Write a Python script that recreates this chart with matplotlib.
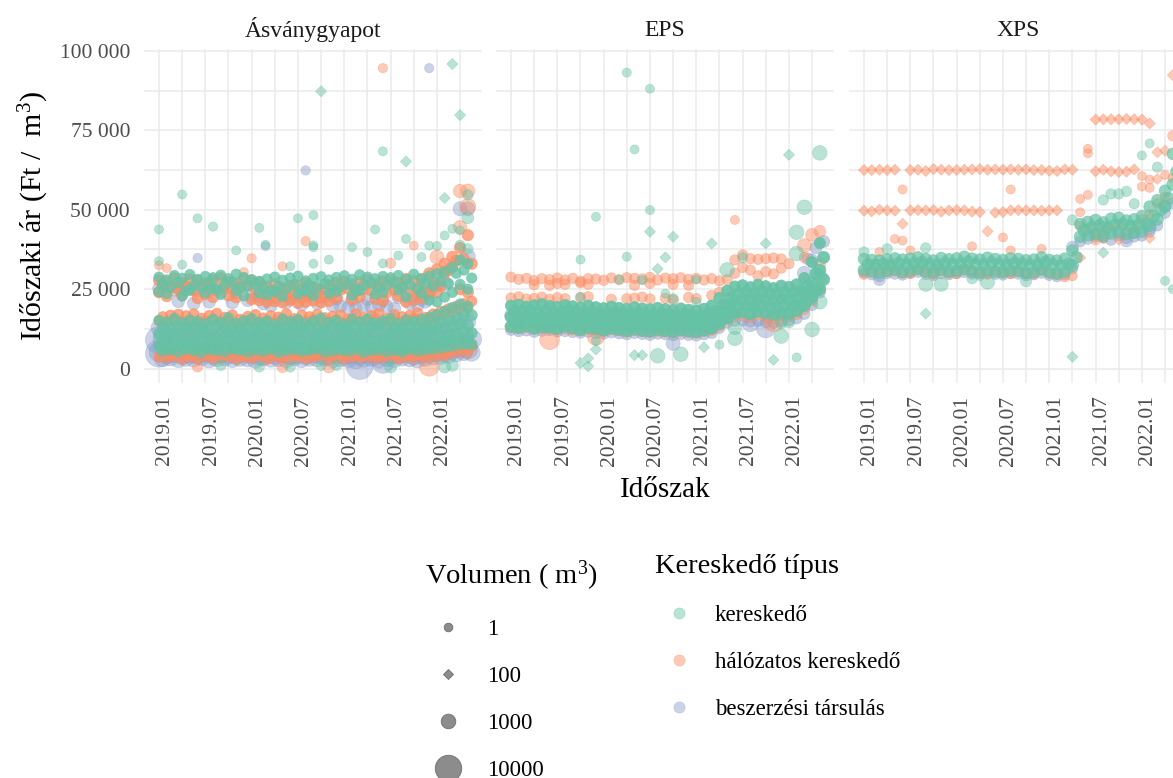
import numpy as np
import matplotlib
matplotlib.use("Agg")
import matplotlib.pyplot as plt
from matplotlib.lines import Line2D
from matplotlib.transforms import ScaledTranslation

plt.rcParams['font.family'] = ['Liberation Serif', 'DejaVu Sans']
plt.rcParams['mathtext.fontset'] = 'custom'
plt.rcParams['mathtext.rm'] = 'Liberation Serif'
plt.rcParams['mathtext.it'] = 'Liberation Serif:italic'

GREEN = '#66C2A5'
ORANGE = '#FC8D62'
BLUE = '#8DA0CB'

panels = ['Ásványgyapot', 'EPS', 'XPS']
tick_labels = ['2019.01', '2019.07', '2020.01', '2020.07', '2021.01', '2021.07', '2022.01']
months = list(range(41))

# prices below are in hundreds of Ft, one row = one seller group across all months
# --- Ásványgyapot ---
asv_blue_rows = [
    [252,None,248,255,None,246,None,250,243,None,238,None,232,228,None,225,None,222,None,230,None,226,None,220,None,215,None,218,None,212,None,224,None,228,None,240,262,None,None,None,None],
    [None,None,212,None,205,None,210,None,None,208,None,215,None,205,198,None,208,None,202,None,206,None,198,196,192,190,198,194,200,196,188,None,205,200,210,None,None,None,None,None,None],
    [128,124,122,126,120,125,119,124,121,127,118,123,120,125,122,119,124,121,126,118,123,120,125,122,118,124,121,126,119,123,120,125,122,127,124,128,132,136,140,150,148],
    [88,82,84,80,86,79,83,85,81,87,78,84,80,82,86,79,85,81,83,78,84,86,80,82,79,85,81,84,78,83,86,80,84,82,85,88,90,94,98,104,92],
    [52,46,50,44,48,45,51,43,49,47,44,50,46,42,48,45,50,43,47,44,49,46,42,48,44,47,43,50,45,48,44,46,49,43,47,50,52,56,60,66,62],
    [32,35,30,34,31,36,29,33,35,30,34,32,28,35,31,33,29,36,30,34,32,35,29,33,30,26,31,34,28,33,30,35,32,29,34,38,40,44,48,52,50],
]
asv_blue_vols = [600, 600, 1200, 2500, 2500, 1500]
asv_blue_x = [0, 0, 5, 13.8, 19, 26, 29, 34, 35, 37, 39, 40, 40]
asv_blue_y = [89, 47, 348, 385, 624, 8, 20, 220, 946, 267, 503, 503, 353]
asv_blue_v = [10000, 10000, 180, 200, 180, 10000, 4000, 900, 180, 1000, 800, 800, 1000]

asv_orange_rows = [
    [278,272,284,270,281,276,268,279,285,273,267,280,276,270,258,265,252,260,262,268,255,250,262,270,274,266,272,280,268,275,278,270,282,276,280,300,312,330,352,380,420],
    [262,255,250,258,246,260,252,245,258,248,255,262,250,232,225,238,228,235,222,230,240,226,236,248,252,244,250,246,254,240,248,256,242,250,246,270,260,310,340,345,330],
    [240,228,None,232,None,222,234,225,None,230,224,None,218,215,210,212,208,215,206,210,214,208,212,222,None,218,226,None,220,214,None,228,210,216,222,235,240,300,320,250,240],
    [163,168,171,166,172,158,167,174,161,169,155,164,170,159,166,162,173,157,168,163,171,160,165,169,156,172,161,167,174,158,170,163,168,175,160,172,180,188,196,205,212],
    [150,146,156,148,152,143,149,155,145,151,141,147,153,144,149,146,155,142,150,147,154,145,148,152,143,156,146,150,157,144,152,147,151,158,146,155,162,170,178,186,190],
    [50,46,52,44,48,53,43,49,45,51,42,47,50,44,48,43,51,46,42,49,45,52,43,47,44,50,42,48,46,51,43,49,45,52,47,54,56,60,66,72,68],
    [36,34,38,30,37,33,39,32,35,38,31,36,33,39,30,37,34,32,38,31,35,39,33,36,30,37,34,38,32,35,39,31,36,33,38,40,42,46,50,54,52],
]
asv_orange_vols = [400, 400, 400, 300, 300, 300, 300]
asv_orange_x = [0, 1, 5, 11, 12, 16, 16, 19, 22, 29, 30, 33, 35, 36, 37, 39, 40, 40, 39]
asv_orange_y = [325, 316, 5, 304, 347, 322, 5, 401, 5, 946, 332, 387, 7, 351, 39, 559, 559, 510, 445]
asv_orange_v = [200, 200, 300, 200, 180, 200, 400, 180, 500, 180, 300, 200, 2500, 800, 500, 700, 800, 1200, 700]

asv_green_rows = [
    [288,279,293,284,296,281,290,286,294,283,297,287,280,275,282,288,278,285,291,276,284,289,279,287,292,281,295,288,283,290,286,293,280,297,284,291,299,305,318,342,330],
    [265,258,270,244,262,255,268,251,263,272,257,260,266,254,247,259,252,264,249,261,256,267,253,258,265,250,262,268,255,263,270,257,264,252,268,260,275,268,300,310,285],
    [242,236,None,228,247,None,239,251,233,None,245,229,None,238,232,241,227,None,235,244,230,None,237,243,None,231,246,None,234,240,None,248,226,None,237,215,210,225,240,265,250],
    [56,60,54,62,58,53,61,57,55,63,59,54,60,56,62,53,58,61,55,59,63,54,57,60,56,62,53,58,61,55,59,54,62,57,60,63,66,70,74,78,76],
    [70,66,73,68,75,64,71,67,74,69,65,72,70,63,76,68,66,73,71,64,69,75,67,72,65,70,74,66,68,73,71,64,69,75,72,76,80,85,90,96,92],
    [88,84,92,86,81,90,85,93,83,89,87,91,82,94,86,84,90,88,83,92,85,89,81,93,87,84,91,86,82,90,88,85,92,84,89,95,99,104,110,116,112],
    [108,113,105,110,116,107,112,104,109,115,106,111,103,114,108,105,112,107,116,110,104,113,109,106,115,102,111,108,114,105,110,117,107,113,109,118,122,128,134,141,137],
    [131,126,135,128,133,124,130,137,127,132,125,134,129,136,123,131,128,135,126,133,130,124,137,129,127,134,125,132,136,128,131,126,135,129,133,138,146,154,163,172,168],
    [152,147,158,144,153,149,141,155,146,160,143,151,157,145,150,139,156,148,154,142,149,159,144,152,138,155,147,156,143,150,158,141,153,148,155,162,170,181,192,203,196],
]
asv_green_vols = [300, 300, 300, 400, 400, 400, 400, 400, 300]
asv_green_x = [0, 0, 3, 3, 5, 7, 10, 13, 13.8, 17, 18, 20, 20, 20, 20, 21, 22, 25, 27, 28, 29, 29, 31, 32, 32, 34, 35, 36, 37, 37, 38, 38, 39, 39, 40, 40, 40, 39, 37, 38, 30, 8, 13, 17, 21, 23]
asv_green_y = [438, 338, 548, 327, 473, 447, 372, 443, 390, 322, 473, 483, 388, 382, 330, 873, 343, 382, 367, 438, 684, 331, 356, 652, 408, 351, 387, 386, 537, 419, 959, 440, 798, 435, 547, 475, 377, 388, 5, 10, 5, 10, 5, 5, 10, 10]
asv_green_v = [200, 200, 200, 200, 200, 180, 200, 200, 200, 200, 200, 200, 200, 200, 200, 100, 200, 200, 200, 200, 200, 200, 200, 100, 200, 200, 200, 200, 100, 200, 100, 200, 100, 200, 300, 500, 300, 300, 500, 500, 500, 300, 300, 300, 300, 300]

# --- EPS ---
eps_blue_rows = [
    [122,118,120,116,119,121,117,118,115,113,116,112,110,114,111,108,112,109,106,110,108,105,109,106,104,108,112,128,145,150,152,148,150,146,144,148,152,158,172,200,240],
    [170,None,None,None,None,None,None,None,None,None,None,None,None,None,None,None,None,None,None,None,None,None,None,None,None,None,None,None,None,None,None,None,None,None,None,None,None,None,345,380,400],
]
eps_blue_vols = [400, 500]
eps_blue_x = [0, 21, 31, 33, 38, 39, 40]
eps_blue_y = [168, 79, 141, 126, 300, 340, 290]
eps_blue_v = [600, 800, 1200, 2000, 800, 600, 900]

eps_orange_rows = [
    [288,281,284,277,283,280,285,279,284,275,283,282,278,285,280,286,284,282,287,279,285,283,286,281,284,279,283,276,280,None,None,None,None,None,None,None,None,None,None,None,None],
    [None,None,None,264,None,262,268,265,None,270,265,None,None,None,None,None,262,None,268,None,None,265,None,262,None,None,None,None,None,None,None,None,None,None,None,None,None,None,None,None,None],
    [222,226,219,221,225,218,223,220,None,224,226,None,None,218,None,220,222,225,219,None,221,216,None,224,220,None,230,240,None,None,None,None,None,None,None,None,None,None,None,None,None],
    [None,None,None,None,None,None,None,None,None,None,None,None,None,None,None,None,None,None,None,None,None,None,None,None,None,None,None,None,None,342,358,346,344,346,348,345,None,None,None,None,None],
    [None,None,None,None,None,None,None,None,None,None,None,None,None,None,None,None,None,None,None,None,None,None,None,None,None,None,None,None,None,300,318,310,292,305,298,316,330,None,350,None,None],
    [130,127,131,125,128,129,124,127,123,120,125,122,118,124,120,116,122,118,115,119,116,114,118,115,113,118,122,136,155,165,168,162,170,166,160,168,165,172,188,215,250],
]
eps_orange_vols = [300, 300, 300, 300, 300, 400]
eps_orange_x = [5, 11, 29, 34, 38, 39, 40, 40]
eps_orange_y = [91, 100, 468, 147, 387, 421, 432, 330]
eps_orange_v = [2500, 1500, 200, 2500, 800, 600, 500, 500]

eps_green_rows = [
    [132,129,134,127,131,130,126,133,128,122,129,125,121,127,123,119,124,120,118,123,119,117,122,118,116,121,127,142,160,174,178,172,180,175,170,177,174,182,198,225,250],
    [147,143,149,142,146,144,140,148,141,137,145,139,136,141,138,134,139,135,132,138,134,131,136,132,130,136,144,160,180,194,199,192,201,195,190,198,194,202,218,245,280],
    [163,160,166,158,164,161,157,165,159,155,162,156,153,159,155,151,157,153,150,155,151,149,153,150,148,154,162,180,200,214,220,213,222,216,211,219,215,223,240,270,310],
    [181,178,184,176,182,179,175,183,177,172,180,174,171,177,173,169,175,170,168,173,169,166,171,167,165,172,180,200,222,235,241,234,243,237,232,240,236,244,262,300,350],
    [198,201,195,199,203,197,194,200,196,192,198,193,190,195,191,188,193,189,186,191,187,184,189,185,182,188,198,222,245,258,262,256,264,259,253,261,257,265,285,335,395],
]
eps_green_vols = [500, 500, 500, 500, 400]
eps_green_x = [15, 18, 16, 18, 18, 21, 11, 9, 15, 20, 19, 26, 33, 36, 40, 38, 37, 37, 28, 30, 9, 21, 20, 24, 14, 17, 24, 40, 39, 36, 35, 35, 34, 37, 29, 27, 25, 22, 19, 17, 16, 11, 10, 9, 10, 11, 29]
eps_green_y = [932, 881, 690, 499, 431, 415, 478, 343, 352, 350, 314, 394, 394, 673, 679, 508, 429, 362, 311, 349, 225, 220, 236, 210, 280, 278, 280, 210, 123, 147, 102, 144, 27, 35, 95, 75, 67, 45, 40, 42, 42, 60, 32, 17, 7, 87, 129]
eps_green_v = [200, 200, 200, 200, 100, 100, 200, 200, 200, 100, 100, 100, 100, 100, 900, 900, 900, 900, 900, 300, 200, 300, 200, 200, 200, 200, 200, 900, 900, 500, 900, 500, 100, 200, 900, 200, 100, 900, 900, 100, 100, 100, 100, 100, 100, 200, 800]

# --- XPS ---
xps_blue_rows = [
    [302,296,290,300,298,295,301,304,297,293,299,296,300,303,298,294,301,297,295,300,298,293,296,301,294,290,296,315,400,408,415,412,405,420,410,415,418,430,450,490,520],
]
xps_blue_vols = [350]
xps_blue_x = [2, 27, 31, 34, 35, 37, 39]
xps_blue_y = [280, 382, 424, 403, 428, 443, 513]
xps_blue_v = [500, 500, 400, 600, 400, 700, 500]

xps_orange_rows = [
    [625,625,626,625,626,None,625,626,622,628,626,625,625,626,627,628,626,627,626,627,626,627,625,625,623,622,627,626,None,None,621,626,621,619,620,627,None,None,None,None,None],
    [497,495,500,498,497,None,498,499,498,499,494,498,499,498,494,493,None,491,493,498,499,498,498,497,498,498,None,None,None,None,None,None,None,None,None,None,None,None,None,None,None],
    [None,None,None,None,None,None,None,None,None,None,None,None,None,None,None,None,None,None,None,None,None,None,None,None,None,None,None,None,None,None,784,785,785,785,786,785,784,772,None,None,None],
    [296,308,312,304,306,300,298,310,302,296,308,300,298,312,305,300,296,308,302,298,306,300,297,310,300,296,288,292,None,None,None,None,None,None,None,None,None,None,None,None,None],
    [None,None,None,None,None,None,None,None,None,None,None,None,None,None,None,None,None,None,None,None,None,None,None,None,None,None,None,None,448,440,428,446,438,452,432,447,470,486,520,540,600],
]
xps_orange_vols = [100, 100, 100, 250, 250]
xps_orange_x = [2, 4, 5, 5, 5, 6, 14, 16, 18, 19, 19, 23, 28, 28, 28, 29, 29, 29, 30, 31, 33, 36, 36, 37, 37, 37, 38, 38, 39, 39, 40, 40]
xps_orange_y = [367, 408, 564, 456, 403, 372, 385, 432, 413, 564, 372, 377, 534, 492, 349, 692, 678, 547, 403, 409, 406, 606, 573, 595, 569, 411, 597, 681, 610, 686, 733, 924]
xps_orange_v = [200, 200, 200, 100, 200, 200, 200, 100, 200, 200, 200, 200, 200, 200, 100, 200, 200, 200, 200, 200, 100, 200, 200, 200, 200, 100, 100, 100, 200, 100, 300, 100]

xps_green_rows = [
    [310,306,302,308,312,304,309,314,307,303,311,305,308,313,306,302,310,305,303,309,307,301,304,312,303,299,305,325,415,420,424,418,426,430,424,428,432,450,470,510,580],
    [328,326,330,325,332,327,331,335,329,326,333,328,331,336,330,327,334,329,327,332,330,325,328,335,327,324,329,350,435,445,450,444,452,456,448,452,456,480,500,535,620],
    [345,342,340,344,347,343,346,350,345,340,348,344,347,352,346,343,349,345,342,347,345,341,343,350,342,340,346,372,455,462,468,460,472,475,466,470,480,510,530,560,676],
]
xps_green_vols = [500, 500, 450]
xps_green_x = [0, 3, 8, 8, 8, 10, 14, 16, 21, 27, 27, 31, 31, 32, 33, 34, 35, 36, 37, 38, 39, 40]
xps_green_y = [367, 377, 380, 265, 173, 265, 283, 272, 275, 468, 37, 531, 365, 550, 550, 558, 519, 671, 709, 634, 276, 250]
xps_green_v = [300, 300, 300, 800, 100, 800, 300, 800, 400, 300, 100, 300, 100, 300, 300, 300, 300, 200, 200, 300, 200, 200]

vol_labels = ['1', '100', '1000', '10000']
type_labels = ['kereskedő', 'hálózatos kereskedő', 'beszerzési társulás']


def draw_points(ax, x, y, v, color, alpha):
    x = np.array(x, dtype=float)
    y = np.array(y, dtype=float) * 100
    v = np.array(v, dtype=float)
    diam = np.interp(np.log10(v), [0, 2, 2.3, 2.7, 3, 4], [9, 11, 9, 12, 15, 27])
    small = v <= 120
    ax.scatter(x[small], y[small], s=(diam[small] * 0.72 / 1.41) ** 2, marker='D', color=color,
               alpha=alpha, linewidths=0.5, zorder=3)
    ax.scatter(x[~small], y[~small], s=(diam[~small] * 0.72) ** 2, marker='o', color=color,
               alpha=alpha, linewidths=0.5, zorder=3)


def draw_group(ax, rows, vols, x, y, v, color, row_alpha, stagger):
    for n, (row, vol) in enumerate(zip(rows, vols)):
        # odd rows sit between the month marks, the sellers do not all report on the 1st
        shift = 0.5 if stagger and n % 2 else 0
        xs = [m + shift for m in months]
        draw_points(ax, xs, row, [vol] * len(months), color, row_alpha)
    draw_points(ax, x, y, v, color, 0.45)


W, H = 1173, 778
fig = plt.figure(figsize=(W / 100, H / 100), dpi=100)
lefts = [144, 496, 849]
top, bottom, width = 49, 383, 338
axes = [fig.add_axes([l / W, 1 - bottom / H, width / W, (bottom - top) / H]) for l in lefts]

data = [
    [(asv_blue_rows, asv_blue_vols, asv_blue_x, asv_blue_y, asv_blue_v, BLUE, 0.45, True),
     (asv_orange_rows, asv_orange_vols, asv_orange_x, asv_orange_y, asv_orange_v, ORANGE, 0.75, True),
     (asv_green_rows, asv_green_vols, asv_green_x, asv_green_y, asv_green_v, GREEN, 0.8, True)],
    [(eps_blue_rows, eps_blue_vols, eps_blue_x, eps_blue_y, eps_blue_v, BLUE, 0.5, True),
     (eps_orange_rows, eps_orange_vols, eps_orange_x, eps_orange_y, eps_orange_v, ORANGE, 0.5, False),
     (eps_green_rows, eps_green_vols, eps_green_x, eps_green_y, eps_green_v, GREEN, 0.9, True)],
    [(xps_blue_rows, xps_blue_vols, xps_blue_x, xps_blue_y, xps_blue_v, BLUE, 0.5, True),
     (xps_orange_rows, xps_orange_vols, xps_orange_x, xps_orange_y, xps_orange_v, ORANGE, 0.5, False),
     (xps_green_rows, xps_green_vols, xps_green_x, xps_green_y, xps_green_v, GREEN, 0.7, True)],
]

for i, ax in enumerate(axes):
    for group in data[i]:
        draw_group(ax, *group)
    ax.set_xlim(-1.94, 41.84)
    ax.set_ylim(-4560, 100630)
    ax.set_xticks(range(0, 37, 6))
    ax.set_xticks(range(3, 40, 6), minor=True)
    ax.set_xticklabels(tick_labels, rotation=90, fontsize=15.5, color='#4D4D4D')
    ax.set_yticks([0, 25000, 50000, 75000, 100000])
    ax.set_yticks([12500, 37500, 62500, 87500], minor=True)
    ax.set_yticklabels(['0', '25 000', '50 000', '75 000', '100 000'] if i == 0 else [],
                       fontsize=15.5, color='#4D4D4D')
    ax.tick_params(which='both', length=0)
    ax.tick_params(axis='x', pad=9)
    ax.tick_params(axis='y', pad=10)
    for lab in ax.get_xticklabels():
        lab.set_transform(lab.get_transform() + ScaledTranslation(6 / 100, 0, fig.dpi_scale_trans))
    ax.grid(which='both', color='#EBEBEB', linewidth=1.1)
    ax.set_axisbelow(True)
    for s in ax.spines.values():
        s.set_visible(False)
    ax.set_title(panels[i], fontsize=17, color='#1A1A1A', pad=9)

axes[0].set_ylabel('Időszaki ár (Ft /  $\\mathrm{m}^{3}$)', fontsize=21.5, color='black', labelpad=6)
axes[1].set_xlabel('Időszak', fontsize=21, color='black', labelpad=8)

grey = dict(linestyle='none', color='#8C8C8C', markeredgecolor='#6E6E6E', markeredgewidth=0.6)
vol_handles = [
    Line2D([], [], marker='o', markersize=6.2, label=vol_labels[0], **grey),
    Line2D([], [], marker='D', markersize=5.5, label=vol_labels[1], **grey),
    Line2D([], [], marker='o', markersize=10.5, label=vol_labels[2], **grey),
    Line2D([], [], marker='o', markersize=19, label=vol_labels[3], **grey),
]
leg1 = fig.legend(handles=vol_handles, title='Volumen ( $\\mathrm{m}^{3}$)', loc='upper left',
                  bbox_to_anchor=(416 / W, 1 - 550 / H), frameon=False, fontsize=16.5,
                  title_fontsize=20.5, labelspacing=1.13, alignment='left', handletextpad=0.73,
                  handlelength=1.97, borderaxespad=0)

type_handles = [Line2D([], [], linestyle='none', marker='o', markersize=8, color=c, alpha=0.45,
                       markeredgewidth=0.5, label=l)
                for c, l in zip([GREEN, ORANGE, BLUE], type_labels)]
leg2 = fig.legend(handles=type_handles, title='Kereskedő típus', loc='upper left',
                  bbox_to_anchor=(646 / W, 1 - 545 / H), frameon=False, fontsize=16.5,
                  title_fontsize=20.5, labelspacing=1.13, alignment='left', handletextpad=0.55,
                  handlelength=2.06, borderaxespad=0)

fig.savefig('out.png', dpi=100)
